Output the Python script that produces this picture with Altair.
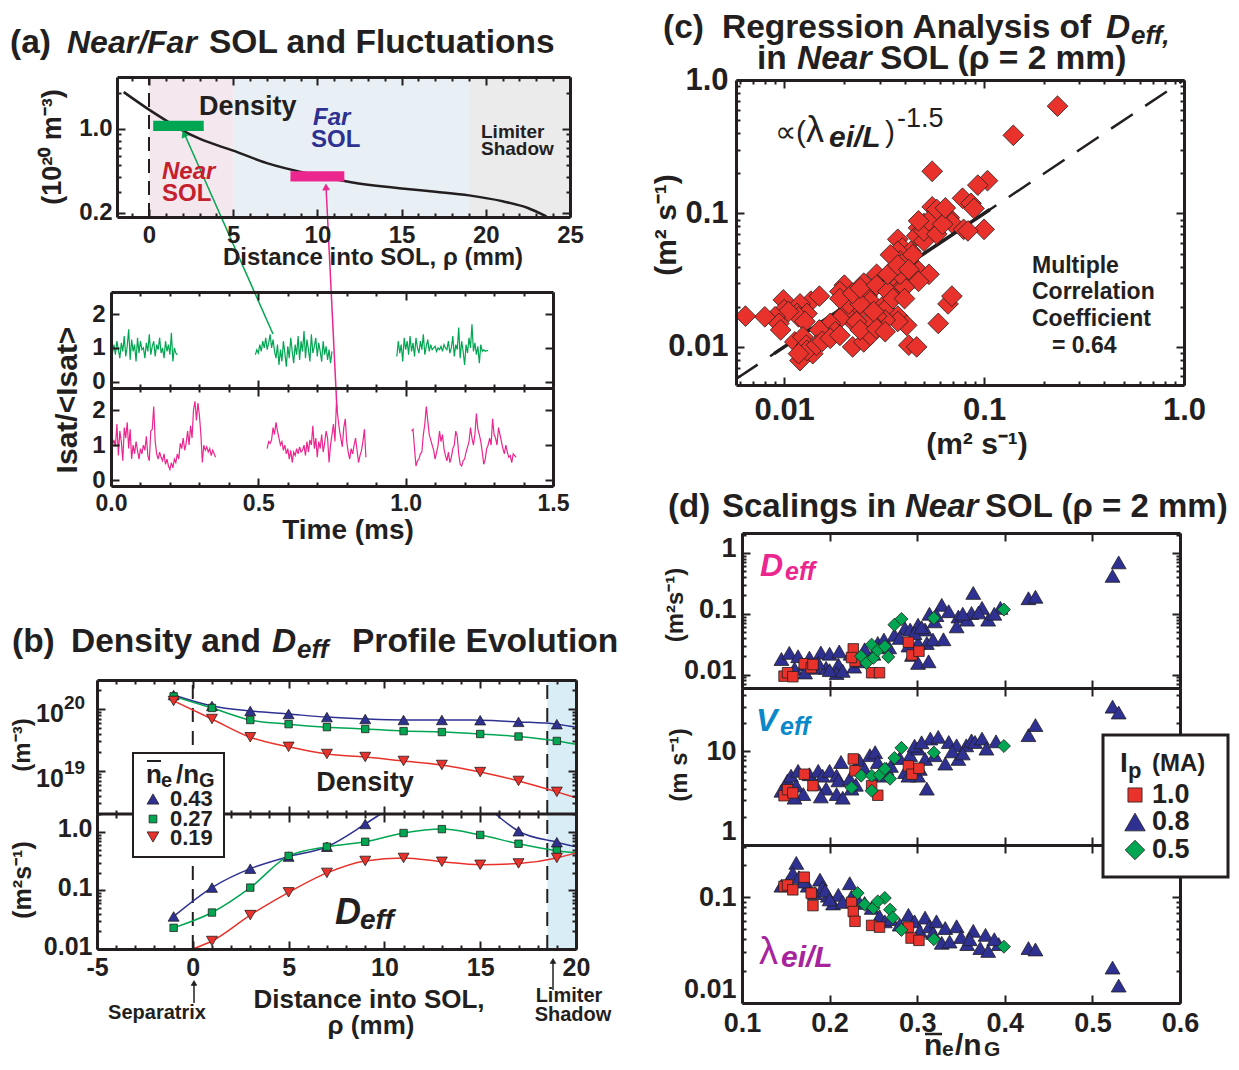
import altair as alt
import pandas as pd

FONT = "Liberation Sans"
W, H = 1223, 1054
M = 8
INK = "#231f20"
BLUE = "#2e3192"
GREEN = "#00a651"
RED = "#e8322b"
PINK = "#ec268f"
NEAR_RED = "#c5202e"
CYAN = "#0a88c9"
PURPLE = "#a6249c"

# ======================= DATA =======================
# (a) density profile n_e (1e20 m^-3) vs rho (mm)
A_RHO = [-1.5, 0, 1, 2, 3, 5, 7, 10, 12, 15, 17, 19, 21, 22.5, 23.6]
A_DENS = [2.03, 1.45, 1.18, 0.97, 0.83, 0.66, 0.52, 0.41, 0.36, 0.32, 0.30, 0.28, 0.25, 0.22, 0.187]
A_REGION_EDGES = [0, 5, 19, 25]          # near SOL | far SOL | limiter shadow
A_NEAR_BAR = [0.25, 3.25, 0.96, 1.17]    # rho0, rho1, n0, n1
A_FAR_BAR = [8.4, 11.6, 0.365, 0.445]

# (a) Isat/<Isat> time series, sample step 0.005 ms
TS_STEP = 0.005
GREEN_T0 = [0.0, 0.49, 0.97]
GREEN_1 = [1.0, 0.85, 1.1, 0.8, 1.2, 0.95, 0.7, 1.15, 0.9, 1.35, 0.75, 1.05, 1.55, 0.65, 1.25, 0.9,
           1.1, 0.6, 1.3, 0.85, 1.2, 0.95, 1.0, 0.7, 1.15, 0.9, 1.4, 0.8, 1.05, 1.2, 0.75, 1.1,
           0.95, 1.3, 0.85, 1.0, 0.7, 1.2, 0.9, 1.1, 0.8, 1.45, 0.6, 1.0, 0.85, 0.8]
GREEN_2 = [0.8, 0.95, 0.85, 1.1, 0.9, 1.2, 1.0, 1.3, 0.95, 1.15, 1.4, 1.0, 1.25, 0.9, 0.7, 1.1,
           0.5, 0.95, 0.6, 1.2, 0.85, 0.45, 1.05, 0.7, 1.3, 0.9, 0.55, 1.1, 0.8, 1.35, 0.65, 1.2,
           0.9, 1.5, 0.7, 1.25, 0.95, 0.6, 1.4, 0.85, 1.05, 1.3, 0.75, 1.15, 0.9, 0.6, 1.2, 0.8,
           1.05, 0.65, 0.95, 0.55, 0.9]
GREEN_3 = [0.75, 1.2, 0.85, 1.1, 0.6, 1.3, 0.95, 1.2, 0.8, 1.35, 0.9, 1.15, 0.75, 1.3, 1.0, 0.85,
           1.2, 0.95, 1.4, 0.8, 1.05, 1.25, 0.9, 1.1, 0.95, 1.0, 1.05, 0.9, 1.0, 0.95, 1.05, 0.9,
           1.1, 1.0, 0.95, 1.2, 0.85, 1.0, 1.35, 0.75, 1.1, 0.95, 1.6, 0.7, 1.2, 0.9, 0.5, 1.1,
           0.85, 1.3, 1.0, 1.7, 0.9, 1.15, 0.8, 1.05, 0.55, 1.1, 0.9, 0.95, 0.9, 0.92, 0.92]
PINK_T0 = [0.0, 0.53, 1.02]
PINK_1 = [1.3, 1.0, 1.15, 0.95, 1.6, 0.7, 1.4, 1.1, 0.55, 1.5, 1.2, 1.65, 0.9, 1.45, 0.6, 1.0,
          0.75, 1.1, 0.85, 0.6, 0.9, 0.75, 1.0, 0.85, 1.25, 0.7, 0.55, 1.4, 1.45, 2.1, 1.1, 0.75,
          0.6, 0.8, 0.65, 0.55, 0.75, 0.45, 0.6, 0.4, 0.3, 0.5, 0.35, 0.6, 0.5, 0.75, 0.6, 1.05,
          0.9, 1.2, 0.85, 1.05, 1.4, 1.0, 1.55, 1.2, 2.0, 2.25, 1.7, 2.2, 1.85, 1.3, 0.5, 1.0,
          0.85, 0.95, 0.8, 0.9, 0.7, 0.85, 0.75, 0.65]
PINK_2 = [0.9, 1.1, 1.05, 1.15, 1.5, 1.3, 1.65, 1.4, 1.2, 1.0, 1.1, 0.85, 1.0, 0.75, 0.9, 0.6,
          0.85, 0.5, 0.8, 0.7, 0.9, 0.75, 0.95, 0.8, 0.85, 1.0, 0.7, 1.1, 0.8, 1.15, 1.0, 1.55,
          0.9, 1.2, 0.65, 1.1, 0.9, 1.3, 0.8, 1.05, 1.4, 1.2, 0.5, 1.0, 1.3, 1.6, 1.1, 2.2,
          1.8, 1.45, 1.2, 0.95, 1.5, 1.75, 1.1, 0.8, 0.6, 0.9, 0.75, 1.0, 1.2, 0.85, 0.5, 0.7,
          0.85, 1.1, 1.45, 0.65]
PINK_3 = [1.4, 1.45, 0.9, 0.4, 0.55, 0.6, 0.75, 0.8, 1.3, 1.6, 2.1, 1.7, 1.3, 1.15, 1.0, 0.85,
          0.6, 0.8, 1.0, 1.4, 1.1, 1.3, 0.9, 0.7, 0.55, 0.8, 0.5, 0.65, 0.9, 1.0, 1.4, 1.25,
          0.75, 0.45, 0.4, 0.55, 0.6, 0.8, 0.95, 1.1, 1.5, 1.2, 1.0, 1.3, 1.9, 1.45, 1.3, 1.1,
          0.8, 0.45, 0.6, 0.9, 1.0, 1.2, 1.0, 1.75, 1.3, 1.2, 1.0, 1.5, 1.3, 1.1, 0.9, 0.75,
          1.0, 0.8, 0.65, 0.7, 0.5, 0.75, 0.7, 0.65]

# (b) profiles at ne/nG = 0.43, 0.27, 0.19
B_RHO = [-1, 1, 3, 5, 7, 9, 11, 13, 15, 17, 19]
B_N_043 = [1.68e20, 1.12e20, 9.3e19, 8.3e19, 7.4e19, 6.9e19, 6.65e19, 6.65e19, 6.6e19, 6.2e19, 5.7e19]
B_N_027 = [1.6e20, 1.04e20, 6.65e19, 5.7e19, 5.1e19, 4.76e19, 4.4e19, 4.25e19, 3.95e19, 3.6e19, 3.05e19]
B_N_019 = [1.35e20, 6.9e19, 3.5e19, 2.45e19, 1.88e19, 1.68e19, 1.45e19, 1.25e19, 9.6e18, 6.9e18, 4.6e18]
B_N_AT20 = [5.1e19, 2.7e19, 3.7e18]
B_D043_RHO = [-1, 1, 3, 5, 7, 9, 17, 19]
B_D043 = [0.036, 0.112, 0.236, 0.38, 0.56, 1.37, 1.03, 0.67]
B_D043_LINE_A = ([-1, 1, 3, 5, 7, 9, 9.8], [0.036, 0.112, 0.236, 0.38, 0.56, 1.37, 2.03])
B_D043_LINE_B = ([15.8, 17, 19, 20], [2.03, 1.03, 0.67, 0.56])
B_D027 = [0.023, 0.042, 0.112, 0.39, 0.56, 0.68, 0.96, 1.12, 0.89, 0.63, 0.48]
B_D019_RHO = [1, 3, 5, 7, 9, 11, 13, 15, 17, 19]
B_D019 = [0.0137, 0.038, 0.093, 0.2, 0.32, 0.36, 0.31, 0.275, 0.29, 0.36]
B_D_AT20 = [0.44, 0.44]
B_D019_START = [0, 0.01]
B_LIMITER = [18.5, 20]

# (c) regression of Deff (x: fit, y: measured), m^2/s
C_X = [0.233, 0.14, 0.055, 0.104, 0.093, 0.078, 0.086, 0.089, 0.055, 0.060,
       0.067, 0.069, 0.1, 0.079, 0.083, 0.050, 0.047, 0.053, 0.046, 0.037,
       0.039, 0.043, 0.050, 0.037, 0.042, 0.038, 0.047, 0.045, 0.053, 0.047,
       0.038, 0.037, 0.040, 0.029, 0.025, 0.020, 0.019, 0.022, 0.026, 0.027,
       0.031, 0.032, 0.037, 0.041, 0.037, 0.032, 0.029, 0.027, 0.023, 0.022,
       0.020, 0.019, 0.017, 0.018, 0.016, 0.015, 0.0136, 0.015, 0.012, 0.0116,
       0.013, 0.0118, 0.0127, 0.0099, 0.0100, 0.0105, 0.0090, 0.0094, 0.0096, 0.0080,
       0.0064, 0.0113, 0.0124, 0.0129, 0.012, 0.0139, 0.013, 0.0118, 0.0145, 0.0155,
       0.017, 0.019, 0.022, 0.025, 0.027, 0.023, 0.024, 0.029, 0.032, 0.028,
       0.021, 0.024, 0.019, 0.022, 0.024, 0.029, 0.033, 0.035, 0.040, 0.042,
       0.046, 0.059, 0.066, 0.069, 0.038, 0.033, 0.050, 0.053, 0.047, 0.058,
       0.038, 0.044, 0.034, 0.037, 0.042, 0.062, 0.058, 0.064]
C_Y = [0.637, 0.385, 0.207, 0.176, 0.163, 0.13, 0.119, 0.109, 0.112, 0.0986,
       0.093, 0.085, 0.076, 0.076, 0.074, 0.084, 0.078, 0.074, 0.068, 0.064,
       0.055, 0.052, 0.062, 0.052, 0.044, 0.039, 0.037, 0.033, 0.035, 0.031,
       0.030, 0.026, 0.028, 0.035, 0.030, 0.029, 0.026, 0.025, 0.024, 0.022,
       0.020, 0.019, 0.017, 0.0145, 0.0155, 0.0159, 0.017, 0.0155, 0.0178, 0.0155,
       0.018, 0.0163, 0.015, 0.013, 0.012, 0.0134, 0.022, 0.024, 0.021, 0.0178,
       0.0178, 0.0168, 0.0155, 0.0225, 0.019, 0.0184, 0.0168, 0.015, 0.0134, 0.0168,
       0.017, 0.0109, 0.0119, 0.0103, 0.0079, 0.0089, 0.0094, 0.0089, 0.0103, 0.011,
       0.0116, 0.0122, 0.010, 0.0109, 0.0122, 0.0155, 0.0134, 0.0137, 0.013, 0.0184,
       0.021, 0.021, 0.023, 0.0252, 0.0276, 0.029, 0.026, 0.023, 0.023, 0.0103,
       0.010, 0.015, 0.021, 0.024, 0.035, 0.035, 0.074, 0.088, 0.088, 0.070,
       0.044, 0.049, 0.049, 0.041, 0.038, 0.083, 0.107, 0.11]
C_IDENTITY = [0.00574, 1.0]
C_FIT = [0.0089, 0.107]

# (d) scalings vs ne/nG for Ip = 1.0 (red), 0.8 (blue), 0.5 (green) MA
D1_BX = [0.145, 0.154, 0.164, 0.177, 0.19, 0.2, 0.211, 0.224, 0.183, 0.196, 0.21, 0.208, 0.171, 0.24, 0.255,
         0.262, 0.274, 0.286, 0.292, 0.301, 0.309, 0.311, 0.318, 0.294, 0.301, 0.313, 0.328, 0.336, 0.314, 0.347,
         0.345, 0.357, 0.364, 0.362, 0.374, 0.381, 0.395, 0.427, 0.435, 0.33, 0.301, 0.32, 0.523, 0.53,
         0.16, 0.172, 0.187, 0.2, 0.215, 0.228, 0.235, 0.25, 0.268, 0.28, 0.29, 0.297, 0.305, 0.322, 0.352, 0.37, 0.388]
D1_BY = [0.018, 0.0227, 0.020, 0.019, 0.023, 0.022, 0.024, 0.022, 0.0129, 0.0129, 0.0146, 0.0106, 0.0146, 0.026, 0.033,
         0.0376, 0.045, 0.058, 0.055, 0.066, 0.055, 0.033, 0.0376, 0.021, 0.0155, 0.0165, 0.14, 0.11, 0.1, 0.09,
         0.062, 0.08, 0.22, 0.103, 0.125, 0.08, 0.125, 0.18, 0.19, 0.038, 0.033, 0.075, 0.42, 0.70,
         0.0125, 0.0108, 0.0155, 0.0118, 0.0115, 0.0135, 0.0165, 0.022, 0.028, 0.04, 0.03, 0.048, 0.06, 0.095, 0.1, 0.105, 0.1]
D1_RX = [0.148, 0.152, 0.158, 0.171, 0.179, 0.181, 0.227, 0.229, 0.225, 0.248, 0.257, 0.29, 0.294, 0.302]
D1_RY = [0.0094, 0.0107, 0.0092, 0.015, 0.0129, 0.0146, 0.0264, 0.0166, 0.019, 0.0107, 0.0107, 0.034, 0.021, 0.0242]
D1_GX = [0.236, 0.242, 0.25, 0.248, 0.255, 0.263, 0.267, 0.274, 0.282, 0.319, 0.399]
D1_GY = [0.02, 0.0155, 0.0188, 0.031, 0.025, 0.029, 0.0195, 0.066, 0.082, 0.085, 0.117]

D2_BX = [0.145, 0.152, 0.156, 0.164, 0.162, 0.177, 0.183, 0.187, 0.192, 0.2, 0.196, 0.208, 0.21, 0.208, 0.213,
         0.223, 0.225, 0.234, 0.24, 0.246, 0.252, 0.255, 0.259, 0.265, 0.286, 0.292, 0.301, 0.309, 0.311, 0.315,
         0.32, 0.324, 0.332, 0.336, 0.345, 0.347, 0.356, 0.362, 0.366, 0.374, 0.379, 0.427, 0.435, 0.301, 0.303,
         0.29, 0.523, 0.53, 0.17, 0.19, 0.215, 0.23, 0.27, 0.28, 0.297, 0.305, 0.34, 0.352, 0.39, 0.16]
D2_BY = [3.8, 4.9, 5.5, 6.2, 4.3, 5.7, 4.5, 6.2, 5.5, 6.2, 4.0, 5.5, 4.9, 3.5, 7.7,
         5.1, 4.0, 8.0, 6.5, 9.1, 9.8, 7.7, 5.5, 6.5, 6.0, 9.1, 10.7, 8.3, 4.0, 13.7,
         9.1, 14.3, 7.4, 12.6, 11.6, 8.3, 11.6, 13.1, 12.6, 13.7, 10.7, 14.9, 19.1, 5.5, 6.5,
         5.5, 30, 26, 3.5, 3.3, 3.2, 4.4, 7.0, 8.5, 11.5, 12.5, 10, 9.5, 12.8, 3.2]
D2_RX = [0.148, 0.152, 0.158, 0.171, 0.181, 0.227, 0.229, 0.248, 0.255, 0.29, 0.294, 0.302]
D2_RY = [3.36, 3.9, 3.6, 5.7, 4.3, 8.3, 6.2, 4.3, 3.4, 7.0, 5.7, 6.6]
D2_GX = [0.225, 0.236, 0.248, 0.257, 0.263, 0.269, 0.274, 0.282, 0.319, 0.399, 0.248]
D2_GY = [4.1, 5.5, 5.5, 5.6, 6.5, 5.1, 8.5, 10.9, 9.7, 11.4, 3.8]

D3_BX = [0.145, 0.152, 0.162, 0.158, 0.165, 0.175, 0.189, 0.192, 0.198, 0.204, 0.21, 0.223, 0.225, 0.24, 0.248,
         0.257, 0.263, 0.29, 0.297, 0.303, 0.309, 0.314, 0.322, 0.328, 0.332, 0.337, 0.345, 0.357, 0.364, 0.372,
         0.378, 0.381, 0.393, 0.427, 0.435, 0.183, 0.523, 0.53,
         0.17, 0.195, 0.215, 0.232, 0.27, 0.28, 0.318, 0.35, 0.36, 0.388, 0.2]
D3_BY = [0.128, 0.137, 0.21, 0.168, 0.154, 0.128, 0.146, 0.124, 0.103, 0.087, 0.105, 0.135, 0.101, 0.088, 0.079,
         0.066, 0.059, 0.068, 0.059, 0.048, 0.064, 0.053, 0.059, 0.037, 0.051, 0.038, 0.053, 0.036, 0.048, 0.033,
         0.044, 0.031, 0.036, 0.033, 0.032, 0.109, 0.0216, 0.0146,
         0.14, 0.115, 0.09, 0.095, 0.062, 0.055, 0.046, 0.042, 0.04, 0.04, 0.095]
D3_RX = [0.148, 0.152, 0.158, 0.171, 0.179, 0.181, 0.225, 0.227, 0.229, 0.248, 0.257, 0.29, 0.293, 0.302]
D3_RY = [0.126, 0.13, 0.117, 0.154, 0.109, 0.083, 0.089, 0.073, 0.059, 0.054, 0.052, 0.052, 0.041, 0.039]
D3_GX = [0.232, 0.24, 0.25, 0.263, 0.269, 0.272, 0.282, 0.319, 0.399, 0.255]
D3_GY = [0.109, 0.085, 0.079, 0.098, 0.076, 0.064, 0.049, 0.040, 0.034, 0.091]

# tick values
A1_XMAJ = [0, 5, 10, 15, 20, 25]
A1_XMIN = [-1, 1, 2, 3, 4, 6, 7, 8, 9, 11, 12, 13, 14, 16, 17, 18, 19, 21, 22, 23, 24]
A1_YMAJ = [0.2, 1.0]
A1_YMIN = [0.3, 0.4, 0.5, 0.6, 0.7, 0.8, 0.9, 2.0]
TS_XMAJ = [0, 0.5, 1.0, 1.5]
TS_XMIN = [0.1, 0.2, 0.3, 0.4, 0.6, 0.7, 0.8, 0.9, 1.1, 1.2, 1.3, 1.4]
TS_YMAJ = [0, 1, 2]
B_XMAJ = [-5, 0, 5, 10, 15, 20]
B_XMIN = [-4, -3, -2, -1, 1, 2, 3, 4, 6, 7, 8, 9, 11, 12, 13, 14, 16, 17, 18, 19]
B1_YMAJ = [1e19, 1e20]
B1_YMIN = [3e18, 4e18, 5e18, 6e18, 7e18, 8e18, 9e18, 2e19, 3e19, 4e19, 5e19, 6e19, 7e19, 8e19, 9e19, 2e20]
B2_YMAJ = [0.01, 0.1, 1.0]
B2_YMIN = [0.02, 0.03, 0.04, 0.05, 0.06, 0.07, 0.08, 0.09, 0.2, 0.3, 0.4, 0.5, 0.6, 0.7, 0.8, 0.9, 2.0]
C_MAJ = [0.01, 0.1, 1.0]
C_MIN = [0.006, 0.007, 0.008, 0.009, 0.02, 0.03, 0.04, 0.05, 0.06, 0.07, 0.08, 0.09,
         0.2, 0.3, 0.4, 0.5, 0.6, 0.7, 0.8, 0.9]
D_XMAJ = [0.1, 0.2, 0.3, 0.4, 0.5, 0.6]
D1_YMAJ = [0.01, 0.1, 1.0]
D1_YMIN = [0.007, 0.008, 0.009, 0.02, 0.03, 0.04, 0.05, 0.06, 0.07, 0.08, 0.09,
           0.2, 0.3, 0.4, 0.5, 0.6, 0.7, 0.8, 0.9, 2.0]
D2_YMAJ = [1, 10]
D2_YMIN = [2, 3, 4, 5, 6, 7, 8, 9, 20, 30, 40]
D3_YMAJ = [0.01, 0.1]
D3_YMIN = [0.02, 0.03, 0.04, 0.05, 0.06, 0.07, 0.08, 0.09, 0.2, 0.3]

# ======================= LAYOUT (page pixels) =======================
P_A1 = dict(x=(117, 570), y=(77, 217), xd=[-1.9, 25], yd=[0.185, 2.71], xlog=False, ylog=True)
P_A2 = dict(x=(111, 553), y=(292, 388), xd=[0, 1.5], yd=[-0.18, 2.65], xlog=False, ylog=False)
P_A3 = dict(x=(111, 553), y=(388, 486), xd=[0, 1.5], yd=[-0.17, 2.63], xlog=False, ylog=False)
P_B1 = dict(x=(97, 576), y=(680, 814), xd=[-5, 20], yd=[2.02e18, 2.94e20], xlog=False, ylog=True)
P_B2 = dict(x=(97, 576), y=(814, 949), xd=[-5, 20], yd=[0.01, 2.03], xlog=False, ylog=True)
P_C = dict(x=(736, 1184), y=(80, 385), xd=[0.00574, 1.0], yd=[0.00518, 1.0], xlog=True, ylog=True)
P_D1 = dict(x=(742, 1180), y=(533, 688), xd=[0.1, 0.6], yd=[0.006, 2.13], xlog=False, ylog=True)
P_D2 = dict(x=(742, 1180), y=(688, 845), xd=[0.1, 0.6], yd=[1.0, 47.5], xlog=False, ylog=True)
P_D3 = dict(x=(742, 1180), y=(845, 1003), xd=[0.1, 0.6], yd=[0.01, 0.31], xlog=False, ylog=True)


def sx(P):
    rng = [P['x'][0] - M, P['x'][1] - M]
    if P['xlog']:
        return alt.Scale(type='log', domain=P['xd'], range=rng, nice=False)
    return alt.Scale(type='linear', domain=P['xd'], range=rng, nice=False, zero=False)


def sy(P):
    rng = [P['y'][1] - M, P['y'][0] - M]
    if P['ylog']:
        return alt.Scale(type='log', domain=P['yd'], range=rng, nice=False)
    return alt.Scale(type='linear', domain=P['yd'], range=rng, nice=False, zero=False)


def off(P, o):
    return {'bottom': P['y'][1] - M - H, 'top': -(P['y'][0] - M),
            'left': -(P['x'][0] - M), 'right': P['x'][1] - M - W}[o]


def ax_label(P, o, values, expr, size, pad, z, domain=True, extra=None):
    kw = dict(orient=o, offset=off(P, o), values=values, labelExpr=expr, ticks=False,
              domain=domain, domainWidth=3, domainColor=INK, labels=True, labelFont=FONT,
              labelFontSize=size, labelFontWeight='bold', labelColor=INK, labelPadding=pad,
              labelFlush=False, labelOverlap=False, labelBound=False, grid=False, title=None,
              zindex=z)
    kw.update(extra or {})
    return alt.Axis(**kw)


def ax_dom(P, o, z, domain=True):
    return alt.Axis(orient=o, offset=off(P, o), values=[], ticks=False, labels=False,
                    domain=domain, domainWidth=3, domainColor=INK, grid=False, title=None, zindex=z)


def ax_ticks(P, o, values, length, z):
    return alt.Axis(orient=o, offset=off(P, o), values=list(values), ticks=True,
                    tickSize={'expr': str(-length)}, tickWidth=2, tickColor=INK, labels=False,
                    domain=False, grid=False, title=None, zindex=z)


def ghost(P, xa, ya):
    df = pd.DataFrame({'gx': [P['xd'][0]], 'gy': [P['yd'][0]]})
    return alt.Chart(df).mark_point(opacity=0).encode(
        x=alt.X('gx:Q', scale=sx(P), axis=xa), y=alt.Y('gy:Q', scale=sy(P), axis=ya))


def frame(P, lab, maj, mnr, z=None, nodom=(), tick_z=None):
    z = z or {}
    tick_z = tick_z or {}
    Z = lambda o: z.get(o, 1)
    TZ = lambda o: tick_z.get(o, Z(o))

    def side(o):
        if o in lab:
            vals, expr, size, pad = lab[o][:4]
            extra = lab[o][4] if len(lab[o]) > 4 else None
            return ax_label(P, o, vals, expr, size, pad, Z(o), domain=o not in nodom, extra=extra)
        return ax_dom(P, o, Z(o), domain=o not in nodom)

    out = [ghost(P, side('bottom'), side('left')), ghost(P, side('top'), side('right'))]
    for L, tk in ((8, maj), (4, mnr)):
        out.append(ghost(P, ax_ticks(P, 'bottom', tk[0], L, TZ('bottom')), ax_ticks(P, 'left', tk[1], L, TZ('left'))))
        out.append(ghost(P, ax_ticks(P, 'top', tk[0], L, TZ('top')), ax_ticks(P, 'right', tk[1], L, TZ('right'))))
    return out


def rect(P, x0, x1, y0, y1, color):
    df = pd.DataFrame({'x0': [x0], 'x1': [x1], 'y0': [y0], 'y1': [y1]})
    return alt.Chart(df).mark_rect(color=color).encode(
        x=alt.X('x0:Q', scale=sx(P), axis=None), x2='x1',
        y=alt.Y('y0:Q', scale=sy(P), axis=None), y2='y1')


def vrule(P, xv, color=INK, width=2, dash=None):
    df = pd.DataFrame({'x': [xv], 'y0': [P['yd'][0]], 'y1': [P['yd'][1]]})
    kw = dict(color=color, strokeWidth=width)
    if dash:
        kw['strokeDash'] = dash
    return alt.Chart(df).mark_rule(**kw).encode(
        x=alt.X('x:Q', scale=sx(P), axis=None),
        y=alt.Y('y0:Q', scale=sy(P), axis=None), y2='y1')


def line(P, xv, yv, color, width=1.5, seg=None, dash=None, interp='monotone'):
    df = pd.DataFrame({'x': xv, 'y': yv, 's': seg if seg is not None else [0] * len(xv)})
    kw = dict(color=color, strokeWidth=width, interpolate=interp)
    if dash:
        kw['strokeDash'] = dash
    return alt.Chart(df).mark_line(**kw).encode(
        x=alt.X('x:Q', scale=sx(P), axis=None), y=alt.Y('y:Q', scale=sy(P), axis=None),
        detail='s:N')


def pts(P, xv, yv, shape, fill, size, sw=0.8):
    df = pd.DataFrame({'x': xv, 'y': yv})
    return alt.Chart(df).mark_point(shape=shape, filled=True, fill=fill, stroke=INK, strokeWidth=sw,
                                    size=size, opacity=1).encode(
        x=alt.X('x:Q', scale=sx(P), axis=None), y=alt.Y('y:Q', scale=sy(P), axis=None))


ONE = pd.DataFrame({'k': [0]})


def T(text, x, y, size, weight='bold', style='normal', color=INK, align='left', angle=0):
    kw = dict(text=text, font=FONT, fontSize=size, fontWeight=weight, fontStyle=style, color=color,
              align=align, baseline='middle')
    if angle:
        kw['angle'] = angle
    return alt.Chart(ONE).mark_text(**kw).encode(x=alt.value(x - M), y=alt.value(y - M))


def R(x1, y1, x2, y2, color=INK, width=1.5):
    return alt.Chart(ONE).mark_rule(color=color, strokeWidth=width).encode(
        x=alt.value(x1 - M), y=alt.value(y1 - M), x2=alt.value(x2 - M), y2=alt.value(y2 - M))


def BOX(x1, y1, x2, y2, sw):
    return alt.Chart(ONE).mark_rect(fill='white', stroke=INK, strokeWidth=sw).encode(
        x=alt.value(x1 - M), y=alt.value(y1 - M), x2=alt.value(x2 - M), y2=alt.value(y2 - M))


def MK(x, y, shape, fill, size, angle=0, stroke=INK, sw=0.8):
    kw = dict(shape=shape, filled=True, fill=fill, stroke=stroke, strokeWidth=sw, size=size, opacity=1)
    if angle:
        kw['angle'] = angle
    return alt.Chart(ONE).mark_point(**kw).encode(x=alt.value(x - M), y=alt.value(y - M))


def series(t0s, segs):
    t, v, s = [], [], []
    for k, (t0, vals) in enumerate(zip(t0s, segs)):
        for i, val in enumerate(vals):
            t.append(t0 + i * TS_STEP)
            v.append(val)
            s.append(k)
    return t, v, s


layers = []

# ---------- (a) density panel ----------
layers += [rect(P_A1, A_REGION_EDGES[0], A_REGION_EDGES[1], P_A1['yd'][0], P_A1['yd'][1], '#f4e8ee'),
           rect(P_A1, A_REGION_EDGES[1], A_REGION_EDGES[2], P_A1['yd'][0], P_A1['yd'][1], '#e8f0f5'),
           rect(P_A1, A_REGION_EDGES[2], A_REGION_EDGES[3], P_A1['yd'][0], P_A1['yd'][1], '#ebebeb'),
           vrule(P_A1, 0, dash=[14, 8])]
layers += frame(P_A1,
                {'bottom': (A1_XMAJ, "'' + datum.value", 24, 6),
                 'left': (A1_YMAJ, "datum.value < 0.5 ? '0.2' : '1.0'", 24, 5)},
                (A1_XMAJ, A1_YMAJ), (A1_XMIN, A1_YMIN))
layers += [line(P_A1, A_RHO, A_DENS, INK, width=2.5),
           rect(P_A1, *A_NEAR_BAR, GREEN), rect(P_A1, *A_FAR_BAR, PINK)]

# ---------- (a) time series ----------
gt, gv, gs = series(GREEN_T0, [GREEN_1, GREEN_2, GREEN_3])
pt, pv, ps = series(PINK_T0, [PINK_1, PINK_2, PINK_3])
layers += frame(P_A2, {'left': (TS_YMAJ, "'' + datum.value", 24, 6)},
                (TS_XMAJ, TS_YMAJ), (TS_XMIN, []))
layers += frame(P_A3, {'left': (TS_YMAJ, "'' + datum.value", 24, 6),
                       'bottom': (TS_XMAJ, "format(datum.value, '.1f')", 23, 6)},
                (TS_XMAJ, TS_YMAJ), (TS_XMIN, []))
layers += [line(P_A2, gt, gv, GREEN, width=1.2, seg=gs, interp='linear'),
           line(P_A3, pt, pv, PINK, width=1.2, seg=ps, interp='linear')]

# ---------- (b) ----------
for P in (P_B1, P_B2):
    layers += [rect(P, B_LIMITER[0], B_LIMITER[1], P['yd'][0], P['yd'][1], '#d9edf6'),
               vrule(P, 0, dash=[14, 9]), vrule(P, B_LIMITER[0], dash=[14, 9])]
layers += frame(P_B1, {}, (B_XMAJ, B1_YMAJ), (B_XMIN, B1_YMIN), nodom=('bottom',), tick_z={'bottom': 0})
layers += frame(P_B2, {'left': (B2_YMAJ, "datum.value < 0.05 ? '0.01' : (datum.value < 0.5 ? '0.1' : '1.0')", 25, 5,
                                {'labelOffset': -3}),
                       'bottom': (B_XMAJ, "'' + datum.value", 25, 6)},
                (B_XMAJ, B2_YMAJ), (B_XMIN, B2_YMIN), nodom=('top',), tick_z={'top': 0})
layers += [line(P_B1, B_RHO + [20], B_N_043 + [B_N_AT20[0]], BLUE),
           line(P_B1, B_RHO + [20], B_N_027 + [B_N_AT20[1]], GREEN),
           line(P_B1, B_RHO + [20], B_N_019 + [B_N_AT20[2]], RED),
           pts(P_B1, B_RHO, B_N_043, 'triangle-up', BLUE, 120),
           pts(P_B1, B_RHO, B_N_027, 'square', GREEN, 55),
           pts(P_B1, B_RHO, B_N_019, 'triangle-down', RED, 120),
           line(P_B2, B_D043_LINE_A[0] + B_D043_LINE_B[0], B_D043_LINE_A[1] + B_D043_LINE_B[1], BLUE,
                seg=[0] * len(B_D043_LINE_A[0]) + [1] * len(B_D043_LINE_B[0])),
           line(P_B2, B_RHO + [20], B_D027 + [B_D_AT20[0]], GREEN),
           line(P_B2, [B_D019_START[0]] + B_D019_RHO + [20], [B_D019_START[1]] + B_D019 + [B_D_AT20[1]], RED),
           pts(P_B2, B_D043_RHO, B_D043, 'triangle-up', BLUE, 120),
           pts(P_B2, B_RHO, B_D027, 'square', GREEN, 55),
           pts(P_B2, B_D019_RHO, B_D019, 'triangle-down', RED, 120)]
# divider of (b) drawn as a mark so that the legend box can cover it
layers.append(alt.Chart(pd.DataFrame({'x0': [P_B2['xd'][0]], 'x1': [P_B2['xd'][1]], 'y': [P_B2['yd'][1]]}))
              .mark_rule(color=INK, strokeWidth=3).encode(
                  x=alt.X('x0:Q', scale=sx(P_B2), axis=None), x2='x1',
                  y=alt.Y('y:Q', scale=sy(P_B2), axis=None)))

# ---------- (c) ----------
layers += frame(P_C, {'left': (C_MAJ, "datum.value < 0.05 ? '0.01' : (datum.value < 0.5 ? '0.1' : '1.0')", 31, 8),
                      'bottom': (C_MAJ, "datum.value < 0.05 ? '0.01' : (datum.value < 0.5 ? '0.1' : '1.0')", 31, 10)},
                (C_MAJ, C_MAJ), (C_MIN, C_MIN))
layers += [line(P_C, C_IDENTITY, C_IDENTITY, INK, width=2.5, dash=[26, 15], interp='linear'),
           line(P_C, C_FIT, C_FIT, INK, width=3.5, interp='linear'),
           pts(P_C, C_X, C_Y, 'diamond', RED, 430)]

# ---------- (d) ----------
zd = {'bottom': 0, 'top': 0, 'left': 0, 'right': 0}
layers += frame(P_D1, {'left': (D1_YMAJ, "datum.value < 0.05 ? '0.01' : (datum.value < 0.5 ? '0.1' : '1')", 27, 6,
                                {'labelOffset': -4})},
                (D_XMAJ, D1_YMAJ), ([], D1_YMIN), z=zd)
layers += frame(P_D2, {'left': (D2_YMAJ, "datum.value < 5 ? '1' : '10'", 27, 6, {'labelFlush': True})},
                (D_XMAJ, D2_YMAJ), ([], D2_YMIN), z=zd)
layers += frame(P_D3, {'left': (D3_YMAJ, "datum.value < 0.05 ? '0.01' : '0.1'", 27, 6, {'labelFlush': True}),
                       'bottom': (D_XMAJ, "format(datum.value, '.1f')", 27, 7)},
                (D_XMAJ, D3_YMAJ), ([], D3_YMIN), z=zd)
for P, bx, by, rx, ry, gx, gy in ((P_D1, D1_BX, D1_BY, D1_RX, D1_RY, D1_GX, D1_GY),
                                  (P_D2, D2_BX, D2_BY, D2_RX, D2_RY, D2_GX, D2_GY),
                                  (P_D3, D3_BX, D3_BY, D3_RX, D3_RY, D3_GX, D3_GY)):
    layers += [pts(P, bx, by, 'triangle-up', BLUE, 220),
               pts(P, rx, ry, 'square', RED, 110),
               pts(P, gx, gy, 'diamond', GREEN, 170)]

# ---------- connectors (a) ----------
layers += [R(184, 133, 273, 334, GREEN, 1.5), MK(184, 134, 'triangle-up', GREEN, 50, angle=336, stroke=GREEN, sw=0.5),
           R(326, 186, 337, 410, PINK, 1.5), MK(326, 187, 'triangle-up', PINK, 50, angle=357, stroke=PINK, sw=0.5)]

# ---------- texts ----------
TA, TB, TC, TD = 33.5, 33.5, 33.5, 33
layers += [
    # titles
    T('(a)', 10, 43, TA), T('Near/Far', 67, 43, 32, style='italic'), T('SOL and Fluctuations', 209, 43, TA),
    T('(b)', 12, 642, TB), T('Density and', 71, 642, TB), T('D', 272, 642, TB, style='italic'),
    T('eff', 297, 650, 26, style='italic'), T('Profile Evolution', 352, 642, TB),
    T('(c)', 663, 28, TC), T('Regression Analysis of', 722, 28, TC), T('D', 1106, 28, TC, style='italic'),
    T('eff,', 1131, 36, 26, style='italic'),
    T('in', 757, 59, TC), T('Near', 797, 59, TC, style='italic'), T('SOL (ρ = 2 mm)', 880, 59, TC),
    T('(d)', 668, 507, TD), T('Scalings in', 722, 507, TD), T('Near', 905, 507, TD, style='italic'),
    T('SOL (ρ = 2 mm)', 985, 507, TD),
    # (a) density annotations
    T('Density', 199, 107, 27), T('Far', 313, 118, 24, style='italic', color=BLUE), T('SOL', 311, 140, 24, color=BLUE),
    T('Near', 162, 172, 24, style='italic', color=NEAR_RED), T('SOL', 162, 194, 24, color=NEAR_RED),
    T('Limiter', 481, 132, 19), T('Shadow', 481, 149, 19),
    T('Distance into SOL, ρ (mm)', 373, 258, 24, align='center'),
    T('(10²⁰ m⁻³)', 53, 147, 27, align='center', angle=270),
    # time series
    T('Isat/<Isat>', 68, 400, 30, align='center', angle=270),
    T('Time (ms)', 348, 531, 28, align='center'),
    # (b)
    T('10', 36, 714, 25), T('20', 64, 703, 19), T('10', 36, 779, 25), T('19', 64, 768, 19),
    T('Density', 365, 783, 27, align='center'), T('D', 335, 913, 36, style='italic'),
    T('eff', 360, 921, 28, style='italic'),
    T('Separatrix', 157, 1013, 20, align='center'), T('Limiter', 569, 996, 20, align='center'),
    T('Shadow', 573, 1015, 20, align='center'),
    T('Distance into SOL,', 369, 1000, 26, align='center'), T('ρ (mm)', 371, 1026, 26, align='center'),
    T('(m⁻³)', 23, 745, 24, align='center', angle=270), T('(m²s⁻¹)', 23, 880, 25, align='center', angle=270),
    R(194, 1003, 194, 984, INK, 1.5), MK(194, 983, 'triangle-up', INK, 30),
    R(553, 990, 553, 962, INK, 1.5), MK(553, 961, 'triangle-up', INK, 30),
    # (c)
    T('∝(', 775, 133, 30, weight='normal'), T('λ', 806, 131, 36, weight='normal'),
    T('ei/L', 829, 138, 30, style='italic'),
    T(')', 885, 133, 30, weight='normal'), T('-1.5', 897, 119, 27, weight='normal'),
    T('Multiple', 1032, 266, 23), T('Correlation', 1032, 292, 23), T('Coefficient', 1032, 319, 23),
    T('= 0.64', 1052, 346, 23),
    T('(m² s⁻¹)', 667, 225, 30, align='center', angle=270), T('(m² s⁻¹)', 977, 445, 30, align='center'),
    # (d)
    T('D', 760, 566, 32, style='italic', color=PINK), T('eff', 785, 572, 25, style='italic', color=PINK),
    T('V', 756, 721, 32, style='italic', color=CYAN), T('eff', 780, 727, 25, style='italic', color=CYAN),
    T('λ', 759, 953, 38, weight='normal', color=PURPLE), T('ei/L', 781, 958, 30, style='italic', color=PURPLE),
    T('(m²s⁻¹)', 676, 605, 24, align='center', angle=270), T('(m s⁻¹)', 680, 765, 24, align='center', angle=270),
    T('n', 924, 1046, 30), R(925, 1034, 942, 1034, INK, 2.5), T('e', 942, 1050, 21), T('/n', 955, 1046, 30),
    T('G', 984, 1050, 21),
]

# legend (b)
layers += [BOX(133, 753, 224, 857, 2),
           T('n', 146, 775, 26), R(147, 761, 161, 761, INK, 2), T('e', 161, 781, 20), T('/n', 176, 775, 26),
           T('G', 199, 781, 20),
           MK(153, 799, 'triangle-up', BLUE, 140), MK(153, 819, 'square', GREEN, 60),
           MK(153, 837, 'triangle-down', RED, 140),
           T('0.43', 170, 799, 22), T('0.27', 170, 819, 22), T('0.19', 170, 838, 22)]
# legend (d)
layers += [BOX(1103, 735, 1228, 877, 3),
           T('I', 1120, 764, 28), T('p', 1128, 771, 22), T('(MA)', 1152, 764, 24),
           MK(1135, 795, 'square', RED, 200), MK(1135, 822, 'triangle-up', BLUE, 420),
           MK(1135, 850, 'diamond', GREEN, 380),
           T('1.0', 1152, 795, 27), T('0.8', 1152, 822, 27), T('0.5', 1152, 850, 27)]

chart = alt.layer(*layers).resolve_scale(x='independent', y='independent').resolve_axis(
    x='independent', y='independent').properties(
    width=W, height=H, padding=0, autosize=alt.AutoSizeParams(type='none'),
    background='white').configure_view(stroke=None)

chart.save("out.html", embed_options={"renderer": "svg", "actions": False})
